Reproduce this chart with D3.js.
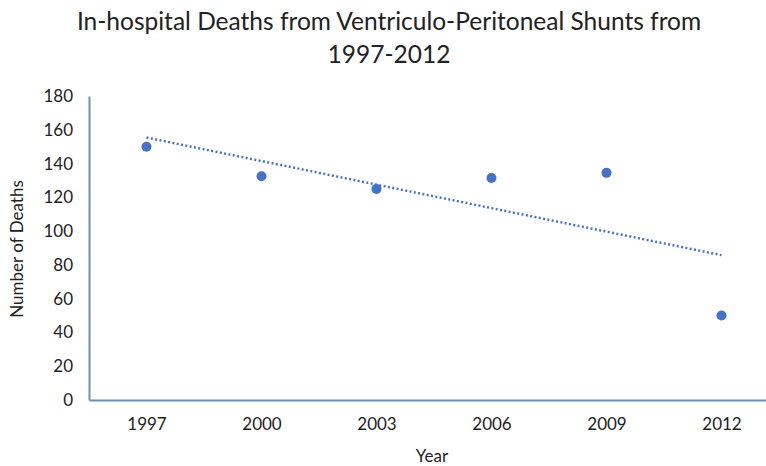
<!DOCTYPE html>
<html>
<head>
<meta charset="utf-8">
<script src="https://cdn.jsdelivr.net/npm/d3@7"></script>
<style>
  body { margin: 0; background: #fff; }
  text { font-family: Lato, "Open Sans", sans-serif; fill: #222; }
</style>
</head>
<body>
<svg width="766" height="466"></svg>
<script>
var years = ["1997", "2000", "2003", "2006", "2009", "2012"];
var deaths = [150, 132.5, 125, 131.5, 134.5, 50];
var yTicks = [0, 20, 40, 60, 80, 100, 120, 140, 160, 180];
var titleLines = ["In-hospital Deaths from Ventriculo-Peritoneal Shunts from", "1997-2012"];

var svg = d3.select("svg"),
    width = +svg.attr("width"),
    height = +svg.attr("height");

var axisColor = "#6f8fb3";
var dotColor = "#4472c4";

var x = d3.scalePoint()
    .domain(years)
    .range([89, 779])
    .padding(0.5);

var y = d3.scaleLinear()
    .domain([0, 180])
    .range([400, 96]);

// title
svg.selectAll(".title")
    .data(titleLines)
    .enter().append("text")
    .attr("class", "title")
    .attr("x", 389)
    .attr("y", function (d, i) { return 30 + i * 33; })
    .attr("text-anchor", "middle")
    .style("font-size", "24.5px")
    .text(function (d) { return d; });

// axes
var yAxis = svg.append("g")
    .attr("transform", "translate(89,0)")
    .call(d3.axisLeft(y).tickValues(yTicks).tickSize(0).tickPadding(16));

var xAxis = svg.append("g")
    .attr("transform", "translate(0,400)")
    .call(d3.axisBottom(x).tickSize(0).tickPadding(18));

[xAxis, yAxis].forEach(function (g) {
    g.select(".domain").attr("stroke", axisColor).attr("stroke-width", 2);
    g.selectAll("text").style("font-size", "17px").attr("fill", "#222");
    g.selectAll(".tick line").remove();
});

// axis titles
svg.append("text")
    .attr("x", 432)
    .attr("y", 462)
    .attr("text-anchor", "middle")
    .style("font-size", "17px")
    .text("Year");

svg.append("text")
    .attr("transform", "translate(23,249) rotate(-90)")
    .attr("text-anchor", "middle")
    .style("font-size", "17px")
    .text("Number of Deaths");

// linear trendline (least squares on the points)
var idx = d3.range(years.length);
var mx = d3.mean(idx), my = d3.mean(deaths);
var sxy = d3.sum(idx, function (i) { return (i - mx) * (deaths[i] - my); });
var sxx = d3.sum(idx, function (i) { return (i - mx) * (i - mx); });
var slope = sxy / sxx, intercept = my - slope * mx;

var trend = [0, years.length - 1].map(function (i) {
    return { year: years[i], value: intercept + slope * i };
});

svg.append("path")
    .datum(trend)
    .attr("fill", "none")
    .attr("stroke", dotColor)
    .attr("stroke-width", 2.4)
    .attr("stroke-dasharray", "2,2.4")
    .attr("d", d3.line()
        .x(function (d) { return x(d.year); })
        .y(function (d) { return y(d.value); }));

// points
svg.append("g")
    .selectAll("circle")
    .data(years)
    .enter().append("circle")
    .attr("cx", function (d) { return x(d); })
    .attr("cy", function (d, i) { return y(deaths[i]); })
    .attr("r", 5)
    .attr("fill", dotColor);
</script>
</body>
</html>
